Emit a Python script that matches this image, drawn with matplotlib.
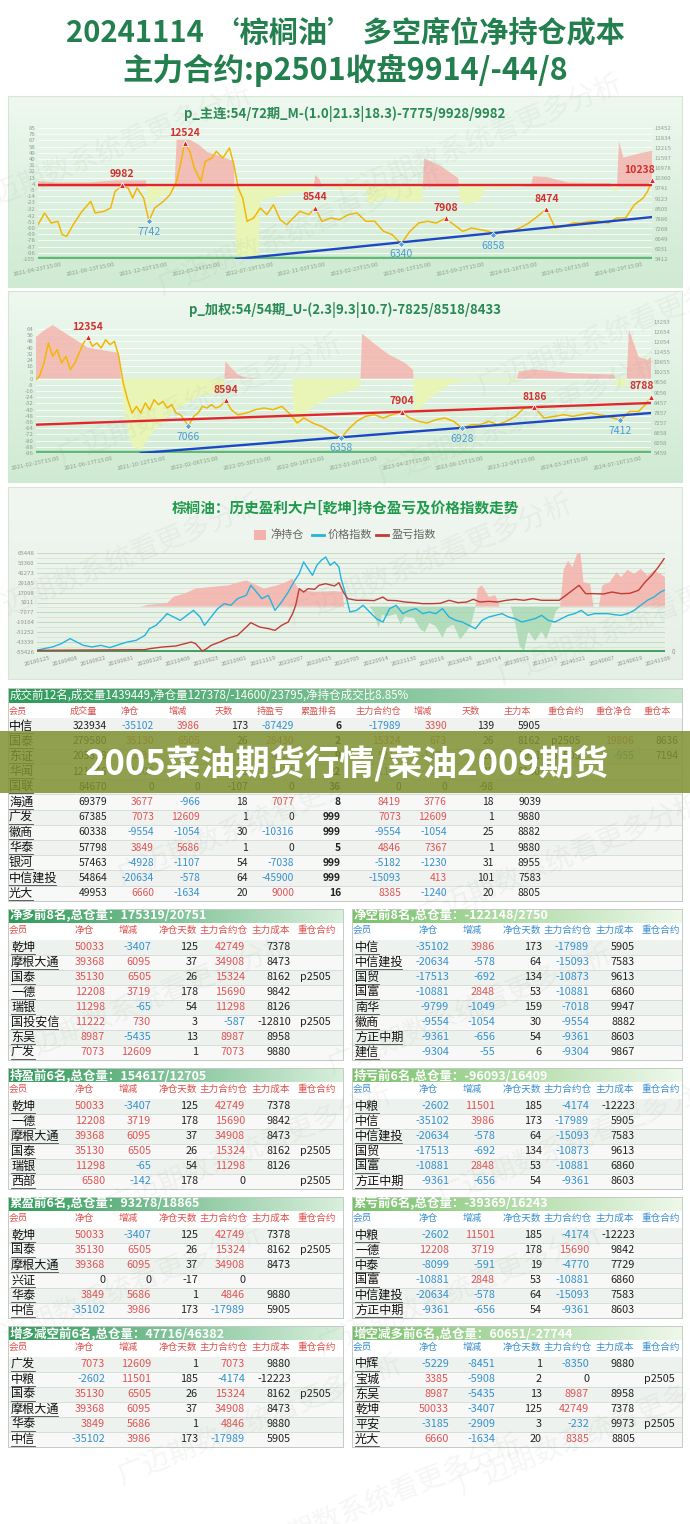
import numpy as np
import matplotlib
matplotlib.use('Agg')
import matplotlib.pyplot as plt
from matplotlib.colors import to_rgb

plt.rcParams['font.family'] = ['Noto Sans CJK SC', 'DejaVu Sans']

# ---------------- text
title_main = '20241114 ‘棕榈油’ 多空席位净持仓成本'
title_sub = '主力合约:p2501收盘9914/-44/8'
banner_text = '2005菜油期货行情/菜油2009期货'
watermark = '广迈期数系统看更多分析'

# ---------------- chart 1 : p_主连
c1_title = 'p_主连:54/72期_M-(1.0|21.3|18.3)-7775/9928/9982'
c1_t = [85, 100, 115, 130, 140, 150, 165, 185, 205, 215, 235, 250, 260, 275, 290, 300, 310, 325, 337, 350,
        370, 385, 400, 410, 418, 430, 440, 455, 465, 480, 490, 505, 520, 530, 540, 550, 560, 575, 590, 605,
        620, 635, 650, 665, 680, 700, 715, 730, 750, 770, 790, 810, 830, 850, 870, 890, 910, 930, 950, 970,
        990, 1010, 1030, 1050, 1070, 1090, 1110, 1120, 1140, 1160, 1180, 1200, 1220, 1240, 1260, 1280, 1300,
        1320, 1340, 1360, 1380, 1400, 1420, 1440, 1460, 1470, 1480]
c1_price = [7520, 8235, 7620, 7725, 6905, 6805, 7520, 8340, 8950, 8235, 8340, 8540, 9565, 9870, 9770, 9155,
            9770, 9155, 7742, 8540, 8950, 9360, 10180, 11405, 12524, 12020, 11000, 10180, 11405, 11610, 12020,
            11610, 12225, 11200, 9770, 9155, 7725, 7930, 8540, 8135, 8745, 7825, 7520, 7930, 8340, 8135, 8544,
            7725, 7930, 7825, 8135, 8235, 7725, 7725, 7110, 6905, 6340, 7110, 7620, 7725, 7620, 7908, 7520,
            7110, 7315, 7210, 7110, 6858, 7110, 7110, 7315, 7620, 8030, 8474, 7315, 7415, 7620, 7620, 7725,
            7725, 7620, 7930, 7930, 8745, 9155, 9565, 10238]
c1_net_t = [85, 130, 200, 260, 330, 335, 340, 360, 395, 400, 430, 450, 470, 500, 530, 535, 540, 585, 590, 620,
            660, 710, 715, 725, 730, 780, 830, 835, 840, 880, 920, 958, 962, 1000, 1040, 1042, 1060, 1090, 1100,
            1150, 1205, 1210, 1240, 1290, 1350, 1385, 1395, 1400, 1405, 1415, 1450, 1480]
c1_net = [8, 6, 6, 9, 9, -26, -26, -15, -3, 68, 68, 61, 50, 44, 37, -100, -103, -103, -20, -15,
          -10, -5, 17, 10, 0, -5, -3, -26, -24, -15, -22, -22, 41, 30, 12, -18, -26, -20, -3,
          -2, 2, 15, 14, 6, 5, 5, -8, -8, 66, 42, 48, 52]
c1_red_t, c1_red = [85, 1480], [9982, 9982]
c1_blue_t, c1_blue = [535, 1480], [5412, 7985]
c1_hi_t = [275, 418, 715, 1012, 1240, 1480]
c1_hi = [9982, 12524, 8544, 7908, 8474, 10238]
c1_lo_t = [337, 910, 1118]
c1_lo = [7742, 6340, 6858]
c1_lticks = [85, 76, 67, 58, 49, 40, 31, 22, 13, 4, -5, -14, -23, -32, -42, -51, -60, -69, -78, -87, -96, -105]
c1_rticks = [13452, 12834, 12215, 11597, 10978, 10360, 9741, 9123, 8505, 7886, 7268, 6649, 6031, 5412]
c1_xlabels = ['2021-04-23T15:00', '2021-08-13T15:00', '2021-12-02T15:00', '2022-03-24T15:00',
              '2022-07-19T15:00', '2022-11-03T15:00', '2023-02-23T15:00', '2023-06-13T15:00',
              '2023-09-27T15:00', '2024-01-18T15:00', '2024-05-16T15:00', '2024-08-29T15:00']

# ---------------- chart 2 : p_加权
c2_title = 'p_加权:54/54期_U-(2.3|9.3|10.7)-7825/8518/8433'
c2_t = [82, 90, 100, 110, 120, 130, 140, 150, 160, 170, 180, 190, 200, 210, 220, 230, 240, 250, 260, 270,
        280, 290, 300, 310, 320, 330, 340, 350, 360, 370, 380, 390, 400, 410, 428, 440, 450, 460, 470, 480,
        490, 500, 513, 525, 540, 560, 580, 600, 620, 640, 660, 675, 690, 710, 730, 750, 775, 790, 810, 830,
        850, 870, 890, 912, 930, 950, 970, 990, 1010, 1030, 1050, 1070, 1090, 1110, 1130, 1150, 1170, 1190,
        1213, 1235, 1260, 1280, 1300, 1320, 1340, 1360, 1380, 1408, 1430, 1450, 1465, 1478]
c2_price = [9822, 10020, 10813, 12003, 11210, 11607, 10813, 11210, 10417, 10813, 11408, 12003, 12354, 11805,
            12003, 11705, 12201, 11904, 12102, 11210, 9623, 8632, 7839, 8235, 7839, 8434, 8037, 8632, 8334,
            8533, 8136, 8334, 7839, 7739, 7066, 7640, 7839, 8235, 8136, 8334, 8136, 8235, 8594, 8037, 7739,
            7839, 8037, 8136, 8037, 8235, 7739, 7244, 7541, 7244, 7045, 6748, 6358, 6847, 7343, 7640, 7739,
            7541, 7739, 7904, 7541, 7343, 7244, 7442, 7541, 7343, 6928, 7145, 7145, 7343, 7145, 7343, 7640,
            8136, 8186, 7541, 7640, 7739, 7640, 7739, 7839, 7739, 7640, 7412, 7938, 7938, 8334, 8788]
c2_net_t = [82, 100, 120, 150, 200, 240, 270, 275, 280, 300, 320, 350, 400, 450, 508, 512, 540, 560, 600, 664,
            668, 700, 750, 800, 818, 822, 850, 880, 920, 938, 942, 980, 1020, 1050, 1100, 1172, 1178, 1210,
            1300, 1395, 1400, 1422, 1428, 1450, 1470, 1478]
c2_net = [54, 62, 69, 58, 40, 36, 33, 0, -36, -87, -92, -66, -40, -23, -15, 22, 5, 1, 0, 0,
          -66, -40, -23, -15, -10, 58, 45, 32, 20, 11, -45, -23, -8, -3, -3, -3, 9, 12, 7, 5,
          -10, -10, 63, 28, 24, 28]
c2_red_t, c2_red = [82, 1478], [7144, 8434]
c2_blue_t, c2_blue = [320, 1478], [5459, 7839]
c2_hi_t = [200, 513, 912, 1213, 1478]
c2_hi = [12354, 8594, 7904, 8186, 8788]
c2_lo_t = [428, 775, 1050, 1408]
c2_lo = [7066, 6358, 6928, 7412]
c2_lticks = [64, 56, 48, 40, 32, 24, 16, 8, 0, -8, -16, -24, -32, -40, -48, -56, -64, -72, -80, -88, -96]
c2_rticks = [13253, 12654, 12054, 11455, 10855, 10255, 9656, 9056, 8457, 7857, 7257, 6658, 6058, 5459]
c2_xlabels = ['2021-02-25T15:00', '2021-06-17T15:00', '2021-10-12T15:00', '2022-02-08T15:00',
              '2022-05-30T15:00', '2022-09-16T15:00', '2023-01-06T15:00', '2023-04-27T15:00',
              '2023-08-15T15:00', '2023-12-04T15:00', '2024-03-26T15:00', '2024-07-16T15:00']

# ---------------- chart 3 : 乾坤
c3_title = '棕榈油：历史盈利大户[乾坤]持仓盈亏及价格指数走势'
c3_legend = ['净持仓', '价格指数', '盈亏指数']
c3_price_t = [85, 100, 120, 140, 160, 175, 190, 210, 230, 250, 270, 290, 310, 330, 340, 355, 370, 380, 395, 410,
              425, 440, 455, 465, 480, 495, 510, 525, 540, 560, 570, 580, 595, 610, 625, 640, 655, 670, 680, 690,
              700, 710, 720, 730, 740, 750, 760, 770, 775, 785, 795, 810, 825, 840, 855, 870, 885, 900, 915, 930,
              945, 960, 975, 990, 1005, 1020, 1035, 1050, 1065, 1080, 1095, 1110, 1125, 1140, 1155, 1170, 1185,
              1200, 1215, 1230, 1245, 1260, 1275, 1290, 1305, 1320, 1335, 1350, 1365, 1380, 1395, 1410, 1425,
              1440, 1455, 1470, 1485, 1500, 1508]
c3_price = [-53400, -51400, -49300, -45300, -39100, -43200, -47300, -49300, -47300, -50100,
            -46500, -43200, -41200, -35100, -26900, -22900, -14700, -8600, -12700, -16800,
            -10700, -4600, -12700, -22900, -12700, -2500, 3600, 1600, 9700, 13800,
            26000, 19900, 9700, 13800, -4600, 5600, 17800, 32100, 40200, 54500,
            46300, 38200, 50400, 56500, 60600, 50400, 54500, 48400, 34100, 15800,
            -6600, -4600, 1600, -6600, -14700, -18800, -2500, 1600, -8600, -4600,
            -2500, -8600, -6600, -8600, -2500, -12700, -16800, -18800, -22900, -26900,
            -16800, -12700, -10700, -8600, -12700, -14700, -18800, -16800, -14700, -10700,
            -16800, -18800, -14700, -10700, -8600, -4600, -10700, -8600, -8600, -8600,
            -9800, -10700, -8600, -4600, 1600, 7700, 11700, 17800, 19900]
c3_pnl_t = [85, 200, 330, 340, 370, 400, 420, 435, 445, 460, 470, 480, 500, 520, 540, 560, 570, 590, 610, 625,
            640, 655, 665, 672, 680, 690, 700, 715, 725, 740, 760, 770, 780, 790, 810, 830, 850, 870, 880, 900,
            920, 940, 960, 980, 1000, 1020, 1040, 1060, 1075, 1090, 1110, 1130, 1150, 1170, 1190, 1210, 1230,
            1250, 1270, 1285, 1300, 1315, 1330, 1350, 1370, 1390, 1410, 1430, 1450, 1465, 1480, 1495, 1508]
c3_pnl = [-53400, -53000, -52600, -51400, -49300, -48100, -45300, -43200, -45300, -54200,
          -51400, -47300, -43200, -38300, -35100, -24900, -19600, -24900, -26900, -29000,
          -22900, -18800, -8600, 1600, 21900, 17800, 21900, 21100, 26000, 28000,
          25200, 29200, 17800, 9700, 7700, 7700, 7300, 11700, 7700, 7300,
          5600, 4800, 3600, 3600, 4000, 7700, 4800, 5600, 8900, 5600,
          6400, 5600, 7700, 8900, 7700, 9700, 7700, 7700, 7700, 13800,
          19900, 26000, 15800, 15800, 15400, 17800, 15800, 16200, 19900, 30000,
          38200, 48400, 58500]
c3_net_t = [85, 320, 335, 380, 395, 420, 445, 480, 520, 545, 560, 575, 600, 630, 650, 665, 680, 720, 760, 778,
            782, 840, 850, 860, 868, 880, 900, 910, 920, 940, 955, 965, 975, 990, 1005, 1015, 1030, 1045, 1060,
            1070, 1080, 1085, 1095, 1110, 1125, 1135, 1160, 1170, 1180, 1190, 1200, 1215, 1230, 1240, 1250,
            1262, 1272, 1280, 1290, 1300, 1310, 1318, 1325, 1340, 1348, 1360, 1368, 1385, 1400, 1410, 1425,
            1440, 1455, 1470, 1485, 1500, 1510]
c3_net = [0, 0, 2000, 4000, 12000, 16000, 22000, 24000, 26000, 30000, 32000, 28000, 22000, 26000, 30000,
          34000, 20000, 18000, 19000, 18000, 0, 0, -8000, -26000, -10000, -12000, -9000, -22000, -12000,
          -14000, -28000, -31000, -20000, -24000, -38000, -26000, -22000, -40000, -30000, -22000, 0, 22000,
          26000, 12000, 14000, 0, 0, -20000, -48000, -54000, -30000, -42000, -30000, -40000, -26000, -6000,
          0, 45000, 56000, 48000, 64000, 66000, 30000, 28000, 0, 0, 26000, 30000, 42000, 36000, 45000,
          40000, 46000, 38000, 44000, 40000, 36000]
c3_lticks = [65448, 53360, 41273, 29185, 17098, 5011, -7077, -19164, -31252, -43339, -55426]
c3_xlabels = ['20180125', '20180408', '20180822', '20190831', '20200120', '20210406', '20210823',
              '20210901', '20211119', '20220207', '20220425', '20220705', '20220914', '20221130',
              '20230216', '20230426', '20230714', '20230922', '20231211', '20240321', '20240607',
              '20240819', '20241106']

# ---------------- table 1
t1_title = '成交前12名,成交量1439449,净仓量127378/-14600/23795,净持仓成交比8.85%'
t1_header = ['会员', '成交量', '净仓', '增减', '天数', '持盈亏', '累盈排名', '主力合约仓', '增减', '天数',
             '主力本', '重仓合约', '重仓净仓', '重仓本']
t1_rows = [
    ['中信', '323934', '-35102', '3986', '173', '-87429', '6', '-17989', '3390', '139', '5905', '', '', ''],
    ['国泰', '279580', '35130', '6505', '26', '28430', '2', '15324', '673', '26', '8162', 'p2505', '19806', '8636'],
    ['东证', '205318', '5536', '-1452', '26', '4420', '9', '5213', '-1270', '26', '7931', 'p2505', '-955', '7194'],
    ['华闻', '121546', '-1108', '-330', '15', '-2874', '22', '-1108', '-330', '15', '8160', '', '', ''],
    ['国联', '84670', '0', '0', '-107', '0', '36', '0', '0', '-98', '', '', '', ''],
    ['海通', '69379', '3677', '-966', '18', '7077', '8', '8419', '3776', '18', '9039', '', '', ''],
    ['广发', '67385', '7073', '12609', '1', '0', '999', '7073', '12609', '1', '9880', '', '', ''],
    ['徽商', '60338', '-9554', '-1054', '30', '-10316', '999', '-9554', '-1054', '25', '8882', '', '', ''],
    ['华泰', '57798', '3849', '5686', '1', '0', '5', '4846', '7367', '1', '9880', '', '', ''],
    ['银河', '57463', '-4928', '-1107', '54', '-7038', '999', '-5182', '-1230', '31', '8955', '', '', ''],
    ['中信建投', '54864', '-20634', '-578', '64', '-45900', '999', '-15093', '413', '101', '7583', '', '', ''],
    ['光大', '49953', '6660', '-1634', '20', '9000', '16', '8385', '-1240', '20', '8805', '', '', ''],
]

# ---------------- small tables
small_header = ['会员', '净仓', '增减', '净仓天数', '主力合约仓', '主力成本', '重仓合约']
t2l_title = '净多前8名,总仓量：175319/20751'
t2l_rows = [
    ['乾坤', '50033', '-3407', '125', '42749', '7378', ''],
    ['摩根大通', '39368', '6095', '37', '34908', '8473', ''],
    ['国泰', '35130', '6505', '26', '15324', '8162', 'p2505'],
    ['一德', '12208', '3719', '178', '15690', '9842', ''],
    ['瑞银', '11298', '-65', '54', '11298', '8126', ''],
    ['国投安信', '11222', '730', '3', '-587', '-12810', 'p2505'],
    ['东吴', '8987', '-5435', '13', '8987', '8958', ''],
    ['广发', '7073', '12609', '1', '7073', '9880', ''],
]
t2r_title = '净空前8名,总仓量：-122148/2750'
t2r_rows = [
    ['中信', '-35102', '3986', '173', '-17989', '5905', ''],
    ['中信建投', '-20634', '-578', '64', '-15093', '7583', ''],
    ['国贸', '-17513', '-692', '134', '-10873', '9613', ''],
    ['国富', '-10881', '2848', '53', '-10881', '6860', ''],
    ['南华', '-9799', '-1049', '159', '-7018', '9947', ''],
    ['徽商', '-9554', '-1054', '30', '-9554', '8882', ''],
    ['方正中期', '-9361', '-656', '54', '-9361', '8603', ''],
    ['建信', '-9304', '-55', '6', '-9304', '9867', ''],
]
t3l_title = '持盈前6名,总仓量：154617/12705'
t3l_rows = [
    ['乾坤', '50033', '-3407', '125', '42749', '7378', ''],
    ['一德', '12208', '3719', '178', '15690', '9842', ''],
    ['摩根大通', '39368', '6095', '37', '34908', '8473', ''],
    ['国泰', '35130', '6505', '26', '15324', '8162', 'p2505'],
    ['瑞银', '11298', '-65', '54', '11298', '8126', ''],
    ['西部', '6580', '-142', '178', '0', '', 'p2505'],
]
t3r_title = '持亏前6名,总仓量：-96093/16409'
t3r_rows = [
    ['中粮', '-2602', '11501', '185', '-4174', '-12223', ''],
    ['中信', '-35102', '3986', '173', '-17989', '5905', ''],
    ['中信建投', '-20634', '-578', '64', '-15093', '7583', ''],
    ['国贸', '-17513', '-692', '134', '-10873', '9613', ''],
    ['国富', '-10881', '2848', '53', '-10881', '6860', ''],
    ['方正中期', '-9361', '-656', '54', '-9361', '8603', ''],
]
t4l_title = '累盈前6名,总仓量：93278/18865'
t4l_rows = [
    ['乾坤', '50033', '-3407', '125', '42749', '7378', ''],
    ['国泰', '35130', '6505', '26', '15324', '8162', 'p2505'],
    ['摩根大通', '39368', '6095', '37', '34908', '8473', ''],
    ['兴证', '0', '0', '-17', '0', '', ''],
    ['华泰', '3849', '5686', '1', '4846', '9880', ''],
    ['中信', '-35102', '3986', '173', '-17989', '5905', ''],
]
t4r_title = '累亏前6名,总仓量：-39369/16243'
t4r_rows = [
    ['中粮', '-2602', '11501', '185', '-4174', '-12223', ''],
    ['一德', '12208', '3719', '178', '15690', '9842', ''],
    ['中泰', '-8099', '-591', '19', '-4770', '7729', ''],
    ['国富', '-10881', '2848', '53', '-10881', '6860', ''],
    ['中信建投', '-20634', '-578', '64', '-15093', '7583', ''],
    ['方正中期', '-9361', '-656', '54', '-9361', '8603', ''],
]
t5l_title = '增多减空前6名,总仓量：47716/46382'
t5l_rows = [
    ['广发', '7073', '12609', '1', '7073', '9880', ''],
    ['中粮', '-2602', '11501', '185', '-4174', '-12223', ''],
    ['国泰', '35130', '6505', '26', '15324', '8162', 'p2505'],
    ['摩根大通', '39368', '6095', '37', '34908', '8473', ''],
    ['华泰', '3849', '5686', '1', '4846', '9880', ''],
    ['中信', '-35102', '3986', '173', '-17989', '5905', ''],
]
t5r_title = '增空减多前6名,总仓量：60651/-27744'
t5r_rows = [
    ['中辉', '-5229', '-8451', '1', '-8350', '9880', ''],
    ['宝城', '3385', '-5908', '2', '0', '', 'p2505'],
    ['东吴', '8987', '-5435', '13', '8987', '8958', ''],
    ['乾坤', '50033', '-3407', '125', '42749', '7378', ''],
    ['平安', '-3185', '-2909', '3', '-232', '9973', 'p2505'],
    ['光大', '6660', '-1634', '20', '8385', '8805', ''],
]

RED = '#df5454'
BLUE = '#3491cf'
INK = '#222222'
GREEN_T = '#23804e'

W, H = 690, 1524
fig = plt.figure(figsize=(6.9, 15.24), dpi=100)
fig.patch.set_facecolor('white')
bg = fig.add_axes([0, 0, 1, 1])
bg.axis('off')


def px_axes(x0, y0, x1, y1):
    return fig.add_axes([x0 / W, 1 - y1 / H, (x1 - x0) / W, (y1 - y0) / H])


def grad(x0, y0, x1, y1, c0, c1, horizontal=False):
    a, b = np.array(to_rgb(c0)), np.array(to_rgb(c1))
    f = np.linspace(0, 1, 64)[:, None]
    col = a * (1 - f) + b * f
    img = col[None, :, :] if horizontal else col[:, None, :]
    bg.imshow(img, extent=(x0, x1, y1, y0), aspect='auto', interpolation='bilinear', zorder=0)


def num_color(s):
    try:
        v = float(s)
    except ValueError:
        return INK
    return RED if v > 0 else BLUE if v < 0 else INK


# ---------------- titles
bg.text(345, 32, title_main, ha='center', va='center', fontsize=21, fontweight='bold', color=GREEN_T)
bg.text(345, 70, title_sub, ha='center', va='center', fontsize=22, fontweight='bold', color=GREEN_T)

# panel backgrounds
grad(8, 96, 682, 287, '#eef8ef', '#cfead2')
grad(8, 291, 682, 482, '#eef8ef', '#cfead2')
grad(8, 487, 682, 679, '#f1f6f1', '#e6f0e6')
for y0, y1 in [(96, 287), (291, 482), (487, 679)]:
    bg.plot([8, 682, 682, 8, 8], [y0, y0, y1, y1, y0], color='#d6e6d6', lw=0.8)


def price_panel(box, tlim, llim, rlim, t, price, net_t, net, lticks, rticks, xlabels,
                red_t, red_v, blue_t, blue_v, hi_t, hi_v, lo_t, lo_v):
    ax = px_axes(*box)
    ax.set_facecolor('none')
    ax.set_xlim(*tlim)
    ax.set_ylim(*llim)
    for v in lticks:
        ax.axhline(v, color='#ffffff', lw=0.6, alpha=0.9, zorder=0)
    nv = np.array(net, dtype=float)
    ax.fill_between(net_t, 0, nv, where=nv >= 0, interpolate=True, color='#f5b1ab', alpha=0.8, lw=0, zorder=1)
    ax.fill_between(net_t, 0, nv, where=nv <= 0, interpolate=True, color='#eaf6b4', alpha=0.95, lw=0, zorder=1)
    ax.axhline(llim[0], color='#62b877', lw=3.2, zorder=2)
    ax.set_yticks(lticks)
    ax.set_yticklabels([str(v) for v in lticks])
    ax.set_xticks(np.linspace(tlim[0], tlim[0] + (tlim[1] - tlim[0]) * 0.946, len(xlabels)))
    ax.set_xticklabels(xlabels, rotation=12)
    ax.tick_params(labelsize=4.3, colors='#8fa28f', length=0, pad=2)
    for s in ax.spines.values():
        s.set_visible(False)
    ar = ax.twinx()
    ar.set_ylim(*rlim)
    ar.set_yticks(rticks)
    ar.set_yticklabels([str(v) for v in rticks])
    ar.tick_params(labelsize=4.3, colors='#8fa28f', length=0, pad=2)
    for s in ar.spines.values():
        s.set_visible(False)
    ar.plot(t, price, color='#f2b705', lw=1.1, zorder=3)
    ar.plot(red_t, red_v, color='#e3262b', lw=1.7, zorder=4)
    ar.plot(blue_t, blue_v, color='#1d48c4', lw=1.7, zorder=4)
    ar.plot(hi_t, hi_v, '^', color='#d92b2b', ms=5, mec='white', mew=0.6, zorder=5, clip_on=False)
    ar.plot(lo_t, lo_v, 'D', color='#5aa2d8', ms=3.2, mec='white', mew=0.5, zorder=5, clip_on=False)
    for x, v in zip(hi_t, hi_v):
        edge = x >= tlim[1] - 5
        ar.annotate(str(v), (x, v), xytext=(2 if edge else 0, 4), textcoords='offset points',
                    ha='right' if edge else 'center', va='bottom', color='#d32f2f',
                    fontsize=7.5, fontweight='bold', zorder=6)
    for x, v in zip(lo_t, lo_v):
        ar.annotate(str(v), (x, v), xytext=(0, -4), textcoords='offset points', ha='center', va='top',
                    color='#4a9bd6', fontsize=7.5, zorder=6)
    return ax, ar


bg.text(345, 114, c1_title, ha='center', va='center', fontsize=9.5, fontweight='bold', color='#2a8a55')
price_panel((38, 128, 652, 259), (85, 1480), (-105, 85), (5412, 13452), c1_t, c1_price, c1_net_t, c1_net,
            c1_lticks, c1_rticks, c1_xlabels, c1_red_t, c1_red, c1_blue_t, c1_blue,
            c1_hi_t, c1_hi, c1_lo_t, c1_lo)

bg.text(345, 310, c2_title, ha='center', va='center', fontsize=9.5, fontweight='bold', color='#2a8a55')
price_panel((36, 322, 651, 453), (82, 1478), (-96, 73), (5459, 13253), c2_t, c2_price, c2_net_t, c2_net,
            c2_lticks, c2_rticks, c2_xlabels, c2_red_t, c2_red, c2_blue_t, c2_blue,
            c2_hi_t, c2_hi, c2_lo_t, c2_lo)

# ---------------- chart 3
bg.text(345, 508, c3_title, ha='center', va='center', fontsize=10.5, fontweight='bold', color='#1f9a4a')
bg.add_patch(plt.Rectangle((254, 530), 12, 10, color='#f5b1ab', lw=0))
bg.text(270, 535, c3_legend[0], ha='left', va='center', fontsize=8, color='#666666')
bg.plot([312, 324], [535, 535], color='#22b5de', lw=2)
bg.text(328, 535, c3_legend[1], ha='left', va='center', fontsize=8, color='#666666')
bg.plot([376, 388], [535, 535], color='#c23b35', lw=2)
bg.text(392, 535, c3_legend[2], ha='left', va='center', fontsize=8, color='#666666')

ax3 = px_axes(37, 553, 665, 652)
ax3.set_facecolor('none')
ax3.set_xlim(85, 1510)
ax3.set_ylim(c3_lticks[-1], c3_lticks[0])
for v in c3_lticks:
    ax3.axhline(v, color='#b9d8b9', lw=0.6, zorder=0)
for a, b in zip(c3_lticks[:-1], c3_lticks[1:]):
    ax3.axhline((a + b) / 2, color='#cfe4cf', lw=0.5, zorder=0)
nv3 = np.array(c3_net, dtype=float)
ax3.fill_between(c3_net_t, 0, nv3, where=nv3 >= 0, interpolate=True, color='#f6b2ac', alpha=0.85, lw=0, zorder=1)
ax3.fill_between(c3_net_t, 0, nv3, where=nv3 <= 0, interpolate=True, color='#a9d9b4', alpha=0.85, lw=0, zorder=1)
ax3.plot(c3_price_t, c3_price, color='#22b5de', lw=1.0, zorder=3)
ax3.plot(c3_pnl_t, c3_pnl, color='#c23b35', lw=1.0, zorder=3)
ax3.axhline(c3_lticks[-1], color='#3e9e5e', lw=3.5, zorder=2)
ax3.set_yticks(c3_lticks)
ax3.set_yticklabels([str(v) for v in c3_lticks])
ax3.set_xticks(np.linspace(85, 1495, len(c3_xlabels)))
ax3.set_xticklabels(c3_xlabels, rotation=15)
ax3.tick_params(labelsize=4.3, colors='#8a9a8a', length=0, pad=2)
for s in ax3.spines.values():
    s.set_visible(False)
ax3.text(1.01, 0.0, '0', transform=ax3.transAxes, fontsize=4.5, color='#8a9a8a', va='center', ha='left')

# ---------------- table 1
T1_HX = [9, 70, 121, 169, 215, 257, 301, 355, 414, 462, 504, 548, 595, 644]
T1_VX = [9, 107, 154, 200, 248, 294, 341, 401, 447, 494, 541, 551, 634, 678]
T1_COLORED = {2, 3, 5, 7, 8, 12}
grad(8, 688, 682, 703, '#2e9a5a', '#c5e6cb', horizontal=True)
bg.text(10, 695.5, t1_title, ha='left', va='center', fontsize=8.3, color='white')
bg.add_patch(plt.Rectangle((8, 703), 674, 15, color='white', lw=0))
for txt, x in zip(t1_header, T1_HX):
    bg.text(x, 711, txt, ha='left', va='center', fontsize=6.6, color='#d9534f')
for i, row in enumerate(t1_rows):
    yc = 726 + 15.2 * i
    bg.add_patch(plt.Rectangle((8, yc - 7.6), 674, 15.2, color='#f7f8f7' if i % 2 else '#eff2ef', lw=0))
    bg.plot([8, 682], [yc + 7.6, yc + 7.6], color='#d3dad3', lw=0.6)
    for j, val in enumerate(row):
        if j == 0:
            bg.text(T1_VX[0], yc, val, ha='left', va='center', fontsize=8.7, color='#111111')
            bg.plot([T1_VX[0], T1_VX[0] + 11.8 * len(val)], [yc + 6.5, yc + 6.5], color='#444444', lw=0.6)
            continue
        ha = 'left' if j == 11 else 'right'
        col = num_color(val) if j in T1_COLORED else INK
        bg.text(T1_VX[j], yc, val, ha=ha, va='center', fontsize=7.4, color=col,
                fontweight='bold' if j == 6 else 'normal')
bg.plot([8, 682, 682, 8, 8], [688, 688, 901, 901, 688], color='#c3ccc3', lw=0.7)

# ---------------- small tables
S_VX = [3, 97, 143, 190, 237, 283, 292]
S_HX = [1, 67, 111, 151, 191, 243, 289]
S_COLORED = {1, 2, 4}


def small_table(x0, x1, ty, title, rows, hcolor, bar0, bar1):
    grad(x0, ty - 7, x1, ty + 7, bar0, bar1, horizontal=True)
    bg.text(x0 + 2, ty, title, ha='left', va='center', fontsize=9, fontweight='bold', color='white')
    bg.add_patch(plt.Rectangle((x0, ty + 7), x1 - x0, 15, color='white', lw=0))
    for txt, dx in zip(small_header, S_HX):
        bg.text(x0 + dx, ty + 14.5, txt, ha='left', va='center', fontsize=6.9, color=hcolor)
    for i, row in enumerate(rows):
        yc = ty + 31 + 15 * i
        bg.add_patch(plt.Rectangle((x0, yc - 7.5), x1 - x0, 15, color='#f7f8f7' if i % 2 else '#eef2ee', lw=0))
        bg.plot([x0, x1], [yc + 7.5, yc + 7.5], color='#d3dad3', lw=0.6)
        for j, val in enumerate(row):
            if j == 0:
                bg.text(x0 + S_VX[0], yc, val, ha='left', va='center', fontsize=8.7, color='#111111')
                bg.plot([x0 + S_VX[0], x0 + S_VX[0] + 11.8 * len(val)], [yc + 6.5, yc + 6.5],
                        color='#444444', lw=0.6)
                continue
            col = num_color(val) if j in S_COLORED else INK
            bg.text(x0 + S_VX[j], yc, val, ha='left' if j == 6 else 'right', va='center',
                    fontsize=7.8, color=col)
    yb = ty + 31 + 15 * (len(rows) - 1) + 7.5
    bg.plot([x0, x1, x1, x0, x0], [ty - 7, ty - 7, yb, yb, ty - 7], color='#c3ccc3', lw=0.7)


LBAR = ('#2f9a5a', '#d8efdb')
RBAR = ('#79c26a', '#eef8ea')
small_table(8, 343, 916, t2l_title, t2l_rows, '#e0504a', *LBAR)
small_table(352, 682, 916, t2r_title, t2r_rows, '#3a8fd0', *RBAR)
small_table(8, 343, 1075, t3l_title, t3l_rows, '#e0504a', *LBAR)
small_table(352, 682, 1075, t3r_title, t3r_rows, '#3a8fd0', *RBAR)
small_table(8, 343, 1204, t4l_title, t4l_rows, '#e0504a', *LBAR)
small_table(352, 682, 1204, t4r_title, t4r_rows, '#3a8fd0', *RBAR)
small_table(8, 343, 1333, t5l_title, t5l_rows, '#e0504a', *LBAR)
small_table(352, 682, 1333, t5r_title, t5r_rows, '#3a8fd0', *RBAR)

bg.set_xlim(0, W)
bg.set_ylim(H, 0)

# ---------------- overlay: banner + watermark
top = fig.add_axes([0, 0, 1, 1])
top.axis('off')
top.set_xlim(0, W)
top.set_ylim(H, 0)
for (x, y) in [(110, 150), (480, 140), (300, 230), (620, 330), (200, 400), (520, 420), (120, 560),
               (430, 560), (640, 620), (260, 820), (560, 860), (150, 1000), (470, 1010), (250, 1150),
               (580, 1140), (120, 1290), (460, 1290), (260, 1420), (600, 1430), (380, 1500)]:
    top.text(x, y, watermark, rotation=22, fontsize=20, color='#8fa08f', alpha=0.09,
             ha='center', va='center')
top.add_patch(plt.Rectangle((0, 731), W, 62, color='#7f9130', alpha=0.85, lw=0))
top.text(347, 763, banner_text, ha='center', va='center', fontsize=25, fontweight='bold', color='white')

fig.savefig('out.png', dpi=100)
